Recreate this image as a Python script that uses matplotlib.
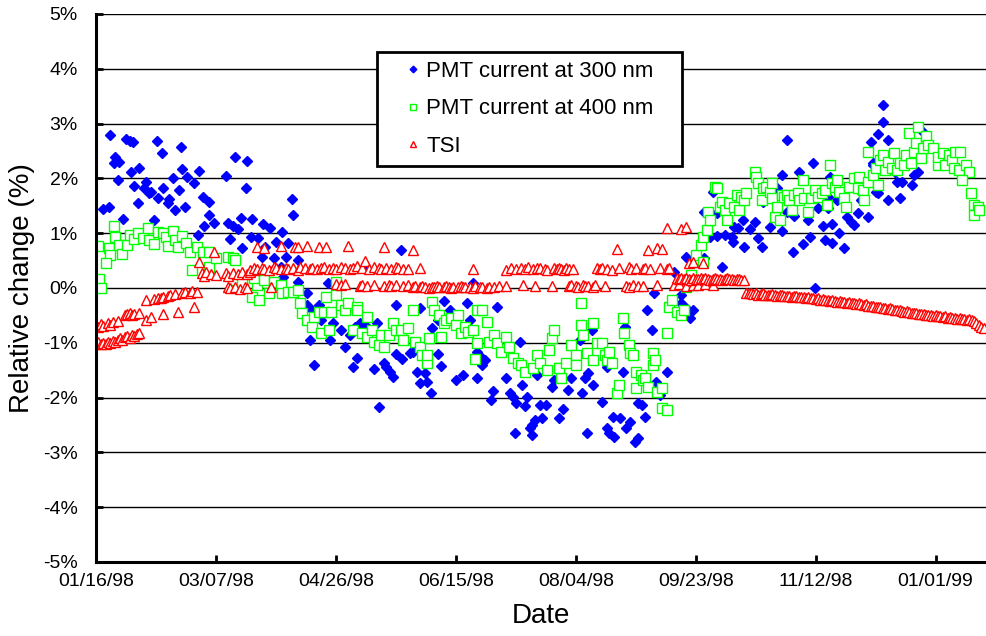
import matplotlib
matplotlib.use("Agg")
import matplotlib.pyplot as plt
import numpy as np

plt.rcParams["font.family"] = ["Liberation Sans", "DejaVu Sans"]

# days since 01/16/98
date_ticks = [0, 50, 100, 150, 200, 250, 300, 350]
date_labels = ["01/16/98", "03/07/98", "04/26/98", "06/15/98",
               "08/04/98", "09/23/98", "11/12/98", "01/01/99"]
pct_ticks = [-5, -4, -3, -2, -1, 0, 1, 2, 3, 4, 5]

# PMT current at 300 nm (relative change, %)
pmt300_day = [
    3, 6, 12.5, 14, 15.6, 25.4, 7.5, 8, 9.6, 9, 14.5, 18, 16, 5.4, 17.5, 11.4, 21, 20, 22, 23,
    26, 28, 30, 30.5, 32, 33, 34.5, 24, 27.5, 35.4, 36, 37, 38, 41, 43, 44.6, 47, 47, 45, 49,
    42.5, 54, 58, 63, 62.5, 55, 57, 59, 60.5, 65, 56, 61, 64.6,
    81.6, 82, 69.5, 72.5, 77.5, 67.6, 75, 80, 70.4, 69, 74, 79, 84, 77, 74.6, 78, 84, 127, 96.6, 88,
    112, 125, 88, 93, 90, 94, 99, 89, 97.5, 102, 104, 106, 108, 110, 112, 117, 115, 91, 107, 109,
    116, 120, 121, 122.5, 124, 125, 127.5, 118,
    157, 135, 145, 147.5, 154.5, 167, 140, 142.5, 156, 131, 132, 142.5, 144, 159, 160, 162, 161, 134, 137, 135,
    138, 139.5, 150, 153, 159, 171, 176.7, 177.5, 165.4, 164.6, 172.5, 174, 175, 179, 179.5, 185, 187.5, 186, 193, 183,
    181.6, 181, 181.6, 174.6, 191, 190, 184,
    253.6, 246, 249, 247.5, 244, 241, 232.5, 229.6, 231.6, 220.4, 219.5, 238, 233.6, 235, 201.6, 206.6, 213, 198, 196.6, 202.5,
    204, 205, 207, 194.6, 211, 215.4, 218.4, 222.5, 221, 225.8, 227.5, 228.7, 213, 214, 216, 204.5, 224.6, 226, 232,
    288, 299, 286, 293, 306, 284, 257, 278, 259, 263, 269.6, 274.6, 266, 267.5, 272.5, 281, 288, 291, 296.6, 301,
    303, 306.6, 256, 259, 262, 265, 265.6, 270, 276, 277.5, 286, 290.5, 294.6, 297.5, 304, 307, 299.6, 261, 253.6, 244, 246,
    328, 328, 326, 323, 330, 323.8, 324, 344.6, 343, 342.5, 341, 340, 336, 334, 333, 325, 326, 330, 335, 318,
    319, 309, 305, 305, 317.5, 321.7, 313, 314.6, 316, 309.6, 311.6,
]
pmt300_val = [
    1.45, 2.79, 2.72, 2.68, 2.66, 2.68, 2.28, 2.39, 2.30, 1.97, 2.12, 2.19, 1.86, 1.48, 1.55, 1.26, 1.93, 1.82, 1.73, 1.75,
    1.64, 1.82, 1.55, 1.62, 2.00, 1.42, 1.79, 1.24, 2.46, 2.57, 2.17, 1.48, 2.03, 1.92, 2.14, 1.66, 1.57, 1.33, 1.13, 1.19,
    0.97, 2.04, 2.39, 2.32, 1.82, 1.19, 1.13, 1.08, 1.28, 1.26, 0.89, 0.73, 0.93,
    1.62, 1.33, 1.17, 1.10, 1.02, 0.91, 0.84, 0.82, 0.75, 0.57, 0.55, 0.57, 0.51, 0.38, 0.36, 0.20, 0.11, 0.69, 0.09, -0.09,
    0.38, -0.31, -0.31, -0.31, -0.40, -0.58, -0.64, -0.95, -0.95, -0.77, -1.08, -0.86, -0.71, -0.64, -0.68, -0.64, -0.77, -1.40, -1.44, -1.28,
    -1.48, -1.37, -1.44, -1.53, -1.62, -1.20, -1.30, -2.17,
    0.09, -0.36, -0.24, -0.40, -0.27, -0.35, -0.73, -0.58, -0.58, -1.19, -1.17, -1.20, -1.42, -1.17, -1.24, -1.31, -1.40, -1.53, -1.55, -1.73,
    -1.71, -1.92, -1.68, -1.59, -1.64, -1.64, -0.99, -1.77, -1.88, -2.04, -1.92, -1.99, -2.10, -2.15, -1.99, -2.13, -2.13, -2.37, -2.37, -2.41,
    -2.50, -2.55, -2.68, -2.65, -1.68, -1.80, -1.59,
    1.39, 0.57, -0.40, -0.55, -0.13, 0.29, -0.09, -0.40, -0.77, -0.71, -1.53, -1.53, -1.71, -1.95, -0.95, -0.77, -1.44, -1.64, -1.86, -1.92,
    -1.64, -1.55, -1.77, -2.21, -2.08, -2.35, -2.37, -2.45, -2.55, -2.10, -2.13, -2.35, -2.55, -2.65, -2.72, -2.65, -2.81, -2.74, -1.40,
    2.70, 2.28, 2.06, 2.12, 2.03, 1.82, 1.75, 1.57, 1.37, 1.28, 1.24, 1.20, 1.11, 1.09, 1.08, 1.11, 1.39, 1.31, 1.24, 1.46,
    1.13, 1.17, 0.93, 0.95, 0.97, 0.93, 0.84, 0.75, 0.91, 0.75, 1.04, 0.66, 0.80, 0.93, 0.88, 0.82, 0.00, 0.38, 0.55, -0.27, -0.36,
    3.34, 3.03, 2.81, 2.66, 2.70, 2.28, 2.24, 2.85, 2.48, 2.12, 2.06, 1.88, 1.93, 1.93, 2.12, 1.75, 1.73, 1.60, 1.64, 1.79,
    1.60, 1.60, 1.66, 1.46, 1.37, 1.30, 1.30, 1.20, 1.15, 1.00, 0.73,
]

# PMT current at 400 nm (relative change, %)
pmt400_day = [
    7.5, 0.8, 5.4, 6, 4, 1.3, 2, 8, 9.6, 11, 13, 14, 16, 17.6, 19.7, 21.8, 22, 24, 26, 28,
    29, 30, 32, 33, 34, 36, 37.5, 39, 40, 42, 44.6, 47, 47, 50, 55, 57, 58, 57, 61, 65, 67,
    66, 70, 68, 72, 74, 77, 77.5, 80, 82, 84, 85, 86, 88, 90, 91, 93, 94, 95, 97, 98,
    96, 100, 100, 102, 104, 105, 107, 109, 109, 113, 111, 113, 115, 116, 118, 119, 120, 122, 124, 125,
    127, 128, 130,
    132, 133, 135, 136, 138, 138, 139, 140, 141, 143, 144, 145, 146, 148, 150, 151, 152, 154, 155, 157,
    159, 158, 159, 161, 163, 164, 166, 167, 169, 171, 172, 174, 176, 177, 179, 182, 184, 185, 188, 189,
    190, 191, 193,
    194, 193, 196, 198, 200, 200, 202, 202, 203, 204.5, 207, 207, 209, 211, 212, 213, 214, 215, 217, 218,
    219.5, 220, 222, 222.5, 224, 225, 225, 227, 228, 229, 230, 232, 232, 233, 234, 236, 236, 238, 238, 239,
    240, 242, 244, 245, 246, 247, 248, 250, 252, 253, 253, 254.5, 255,
    256, 258, 259, 260, 261, 262, 263, 264, 266, 267, 268, 269, 270, 271, 274.6, 275, 276, 277.5, 278, 279.5,
    281, 282, 282, 283, 284, 285, 286, 287, 288, 289, 290, 291, 292.5, 293, 294.6, 295, 297, 298, 299.6, 301,
    302.5, 304, 304.6, 306, 307, 308, 309,
    309.6, 311.7, 312.5, 313.7, 316, 317.5, 318, 319.6, 320, 321.7, 322, 323.7, 325, 326, 327, 328, 329, 330, 332, 332.5,
    334, 335, 336.7, 337.5, 339, 339.6, 341, 341.7, 342.5, 344, 344.6, 346, 347, 349, 351, 351, 353, 354, 355.6, 357,
    357.6, 358, 359.6, 360, 362.5, 364, 361, 364.6, 366, 367.5, 366, 368,
]
pmt400_val = [
    1.13, 0.77, 0.73, 0.60, 0.46, 0.16, 0.00, 0.93, 0.78, 0.62, 0.78, 0.97, 0.90, 1.00, 0.91, 1.09, 0.88, 0.80, 1.02, 1.00,
    0.93, 0.77, 1.04, 0.88, 0.75, 0.95, 0.82, 0.66, 0.33, 0.75, 0.66, 0.38, 0.66, 0.55, 0.57, 0.55, 0.51, 0.15, 0.11, -0.16, 0.05,
    0.18, 0.15, -0.22, -0.09, 0.11, 0.05, -0.09, -0.07, -0.07, -0.04, -0.27, -0.46, -0.58, -0.71, -0.53, -0.44, -0.82, -0.44, -0.77, -0.44,
    -0.16, -0.13, 0.11, -0.31, -0.40, -0.27, -0.77, -0.35, -0.40, -0.53, -0.82, -0.89, -0.77, -0.99, -1.04, -0.86, -1.08, -0.86, -0.64, -0.77,
    -0.77, -0.95, -0.73,
    -0.40, -0.98, -1.07, -1.22, -1.37, -1.22, -0.91, -0.26, -0.40, -0.49, -0.89, -0.64, -0.58, -0.55, -0.68, -0.49, -0.82, -0.71, -0.80, -0.77,
    -1.00, -1.30, -0.40, -0.40, -0.62, -0.98, -0.86, -1.00, -1.17, -0.89, -1.07, -1.28, -1.37, -1.40, -1.53, -1.46, -1.22, -1.37, -1.50, -1.13,
    -0.91, -0.77, -1.46,
    -1.64, -1.46, -1.37, -1.04, -1.22, -1.40, -0.27, -0.68, -0.86, -1.19, -0.64, -1.31, -1.00, -1.00, -1.22, -1.31, -1.17, -1.37, -1.92, -1.77,
    -0.55, -0.82, -1.04, -1.19, -1.22, -1.82, -1.53, -1.59, -1.68, -1.64, -1.80, -1.40, -1.19, -1.31, -1.90, -1.82, -2.19, -2.23, -0.82, -0.35,
    -0.22, -0.44, -0.49, -0.40, 0.02, 0.05, 0.24, 0.60, 0.78, 0.47, 0.93, 1.06, 1.39,
    1.24, 1.84, 1.82, 1.48, 1.57, 1.42, 1.24, 1.55, 1.48, 1.70, 1.42, 1.66, 1.60, 1.73, 2.12, 2.03, 1.92, 1.60, 1.82, 1.84,
    1.75, 1.92, 1.64, 1.30, 1.48, 1.24, 1.70, 1.66, 1.70, 1.60, 1.42, 1.70, 1.73, 1.60, 1.97, 1.64, 1.39, 1.64, 1.79, 1.66,
    1.73, 1.79, 1.51, 2.24, 1.92, 1.84, 1.97,
    1.75, 1.64, 1.48, 1.84, 2.01, 1.82, 2.03, 1.79, 1.60, 1.93, 2.48, 2.06, 2.19, 1.88, 2.34, 2.43, 2.15, 2.30, 2.19, 2.46,
    2.15, 2.28, 2.24, 2.43, 2.83, 2.28, 2.48, 2.65, 2.94, 2.37, 2.55, 2.77, 2.61, 2.55, 2.24, 2.39, 2.46, 2.24, 2.43, 2.34,
    2.19, 2.48, 2.15, 2.48, 2.24, 2.12, 1.97, 1.73, 1.51, 1.48, 1.33, 1.42,
]

# TSI (relative change, %)
tsi_day = (
    list(range(0, 19))
    + [0, 1, 2, 3, 5, 6, 7, 9, 12, 13, 14, 15, 16, 18]
    + [21, 24, 26, 27, 28, 30, 31, 33, 36, 37, 39, 40, 42]
    + [21, 23, 28, 34, 41]
    + [44, 45, 46, 48, 50, 54, 55, 57, 59, 61, 63, 64, 66]
    + [64, 66, 67, 69, 70, 72, 74, 75, 77, 79, 80, 82, 84, 85, 87, 89, 90, 92, 94, 95,
       97, 99, 100, 102, 104, 106, 107, 109, 111, 112, 114, 116, 118, 119, 121, 123, 125, 126, 128, 130]
    + [135, 157, 171, 173, 175, 177, 179, 180, 182, 184, 185, 187, 188, 191, 192, 193, 194, 195, 196, 197,
       199, 209, 210, 211, 213, 215, 218, 222, 223, 225, 228, 229, 231, 235, 238, 239]
    + [55, 56, 58, 60, 62, 63, 73, 100, 102, 104, 110, 111, 113, 116, 120, 122, 123, 125, 128, 130,
       132, 133, 135, 136, 137, 139, 140, 141, 142, 143, 145, 146, 147, 148, 149, 151, 152, 153, 154, 156,
       157, 158, 160, 161, 163, 164, 166, 168, 171, 178, 183, 190, 197, 198, 200, 201, 203, 204, 205, 207,
       208, 212, 221, 222, 224, 226, 228, 234]
    + [241, 243, 246, 249, 251, 254, 257]
    + [43, 49, 67, 70, 77, 83, 84, 88, 93, 96, 105, 120, 132, 217, 230, 234, 236, 238, 244, 246,
       247, 249, 253]
    + list(range(242, 271))
    + list(range(271, 371))
)
tsi_val = (
    [-1.02, -0.98, -1.03, -1.00, -1.02, -0.99, -1.00, -0.97, -0.99, -0.95,
     -0.92, -0.94, -0.90, -0.88, -0.91, -0.86, -0.87, -0.84, -0.82]
    + [-0.68, -0.72, -0.66, -0.70, -0.64, -0.67, -0.62, -0.60, -0.50, -0.48, -0.46, -0.49, -0.47, -0.46]
    + [-0.22, -0.20, -0.18, -0.19, -0.16, -0.14, -0.13, -0.11, -0.09, -0.07, -0.09, -0.05, -0.08]
    + [-0.58, -0.53, -0.47, -0.43, -0.35]
    + [0.27, 0.22, 0.30, 0.25, 0.24, 0.28, 0.22, 0.27, 0.25, 0.30, 0.26, 0.29, 0.33]
    + [0.33, 0.36, 0.34, 0.37, 0.35, 0.33, 0.38, 0.36, 0.34, 0.37, 0.35, 0.36, 0.33, 0.38, 0.36, 0.34, 0.37, 0.35, 0.36, 0.38,
       0.34, 0.37, 0.35, 0.39, 0.36, 0.34, 0.37, 0.40, 0.36, 0.50, 0.35, 0.38, 0.36, 0.34, 0.37, 0.35, 0.38, 0.36, 0.34, 0.35]
    + [0.36, 0.35, 0.33, 0.36, 0.34, 0.37, 0.35, 0.38, 0.34, 0.36, 0.37, 0.35, 0.33, 0.36, 0.34, 0.37, 0.35, 0.33, 0.36, 0.34,
       0.35, 0.36, 0.34, 0.37, 0.35, 0.33, 0.36, 0.38, 0.34, 0.36, 0.35, 0.37, 0.34, 0.36, 0.35, 0.37]
    + [0.02, 0.00, 0.01, -0.02, 0.01, 0.00, 0.02, 0.08, 0.06, 0.08, 0.04, 0.05, 0.03, 0.05, 0.04, 0.06, 0.03, 0.05, 0.04, 0.05,
       0.02, 0.03, 0.01, 0.03, 0.02, 0.00, 0.02, 0.01, 0.03, 0.02, 0.01, 0.03, 0.02, 0.00, 0.02, 0.01, 0.03, 0.02, 0.01, 0.02,
       0.00, 0.03, 0.01, 0.02, 0.00, 0.02, 0.01, 0.03, 0.04, 0.05, 0.03, 0.04, 0.03, 0.05, 0.04, 0.02, 0.05, 0.03, 0.04, 0.02,
       0.05, 0.03, 0.04, 0.02, 0.05, 0.03, 0.04, 0.05]
    + [0.05, 0.07, 0.04, 0.06, 0.05, 0.07, 0.06]
    + [0.47, 0.66, 0.75, 0.73, 0.76, 0.74, 0.75, 0.77, 0.74, 0.75, 0.76, 0.74, 0.69, 0.72, 0.70, 0.73, 0.71, 1.10, 1.08, 1.12,
       0.46, 0.48, 0.45]
    + [0.18, 0.17, 0.19, 0.16, 0.18, 0.17, 0.15, 0.18, 0.16, 0.17, 0.19, 0.16, 0.18, 0.17, 0.15, 0.17, 0.18, 0.16, 0.17, 0.15,
       0.16, 0.18, 0.17, 0.16, 0.15, 0.17, 0.16, 0.14, 0.15]
    + [-0.09, -0.10, -0.09, -0.11, -0.10, -0.12, -0.11, -0.10, -0.12, -0.13, -0.12, -0.11, -0.13, -0.14, -0.13, -0.12, -0.14, -0.15,
       -0.14, -0.16, -0.15, -0.14, -0.16, -0.17, -0.16, -0.18, -0.17, -0.19, -0.18, -0.20, -0.19, -0.21, -0.20, -0.22, -0.21,
       -0.23, -0.22, -0.24, -0.25, -0.24, -0.26, -0.25, -0.27, -0.26, -0.28, -0.27, -0.29, -0.28, -0.30, -0.31, -0.30, -0.32, -0.33,
       -0.32, -0.34, -0.35, -0.34, -0.36, -0.37, -0.38, -0.37, -0.39, -0.40, -0.41, -0.40, -0.42, -0.43, -0.42, -0.44, -0.45,
       -0.46, -0.45, -0.47, -0.48, -0.47, -0.49, -0.50, -0.49, -0.51, -0.50, -0.52, -0.51, -0.53, -0.52, -0.54, -0.53, -0.55,
       -0.54, -0.56, -0.55, -0.57, -0.56, -0.58, -0.57, -0.59, -0.61, -0.64, -0.68, -0.71, -0.73]
)

assert len(pmt300_day) == len(pmt300_val), (len(pmt300_day), len(pmt300_val))
assert len(pmt400_day) == len(pmt400_val), (len(pmt400_day), len(pmt400_val))
assert len(tsi_day) == len(tsi_val), (len(tsi_day), len(tsi_val))

fig = plt.figure(figsize=(9.87, 6.36), dpi=100)
ax = fig.add_axes([96 / 987, 74 / 636, 890 / 987, 548 / 636])

ax.plot(pmt300_day, pmt300_val, ls="none", marker="D", ms=5.2, color="#0000ff",
        mec="#0000ff", label="PMT current at 300 nm", zorder=3)
ax.plot(pmt400_day, pmt400_val, ls="none", marker="s", ms=6.7, mfc="white",
        mec="#00ff00", mew=1.0, label="PMT current at 400 nm", zorder=4)
ax.plot(tsi_day, tsi_val, ls="none", marker="^", ms=7.3, mfc="white",
        mec="#ff0000", mew=1.0, label="TSI", zorder=5)

ax.set_xlim(0, 371)
ax.set_ylim(-5, 5)
ax.set_xticks(date_ticks)
ax.set_xticklabels(date_labels)
ax.set_yticks(pct_ticks)
ax.set_yticklabels([f"{t}%" for t in pct_ticks])
ax.tick_params(axis="both", direction="in", length=5, width=2, labelsize=14, color="black")
ax.tick_params(axis="y", pad=13)
ax.tick_params(axis="x", pad=8)

ax.grid(axis="y", color="black", lw=1, zorder=0)
ax.set_axisbelow(True)
for side in ("top", "right"):
    ax.spines[side].set_visible(False)
for side in ("left", "bottom"):
    ax.spines[side].set_linewidth(2.2)
    ax.spines[side].set_zorder(6)

ax.set_xlabel("Date", fontsize=20, labelpad=9)
ax.set_ylabel("Relative change (%)", fontsize=20, labelpad=6)

leg = ax.legend(loc="upper left", bbox_to_anchor=(0.316, 0.931, 0.342, 0.0), mode="expand",
                fontsize=16, frameon=True, fancybox=False, framealpha=1, borderpad=0.4,
                labelspacing=0.75, handlelength=2.4, handletextpad=-0.6, markerscale=0.65,
                borderaxespad=0)
leg.get_frame().set_edgecolor("black")
leg.get_frame().set_linewidth(2)
leg.set_zorder(10)

fig.savefig("out.png", dpi=100)
